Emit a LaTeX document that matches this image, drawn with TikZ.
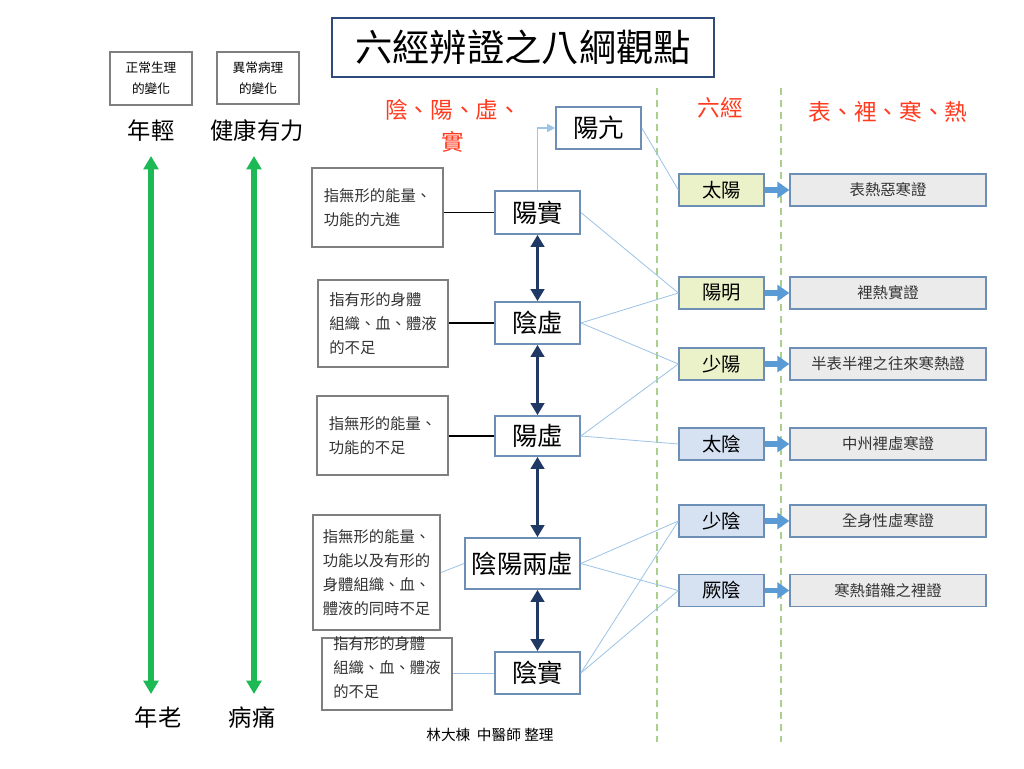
\documentclass[tikz,border=0pt]{standalone}
\usepackage{fontspec}
\setmainfont{Noto Sans CJK TC}
\usetikzlibrary{arrows.meta}
\newlength\px
\setlength\px{0.75pt}
\definecolor{navy}{HTML}{1F3864}
\definecolor{titleblue}{HTML}{2F4B7C}
\definecolor{steel}{HTML}{6D8FB5}
\definecolor{thinblue}{HTML}{9DC3E6}
\definecolor{arrowblue}{HTML}{5B9BD5}
\definecolor{yangfill}{HTML}{EBF1C8}
\definecolor{yinfill}{HTML}{D6E1F2}
\definecolor{rightfill}{HTML}{EBEBEB}
\definecolor{greenarrow}{HTML}{1DB954}
\definecolor{hdrred}{HTML}{FF3B1F}
\definecolor{boxgray}{HTML}{7F7F7F}
\definecolor{dashgreen}{HTML}{A9D18E}
\tikzset{
  pw/.style={minimum width=#1*\px},
  ph/.style={minimum height=#1*\px},
  mainbox/.style={draw=steel, line width=1.3pt, fill=white, inner sep=0pt, font=\fontsize{19}{22}\selectfont},
  descbox/.style={draw=boxgray, line width=1.5pt, fill=white, inner sep=0pt, font=\fontsize{11.5}{18}\selectfont, align=left, text=black!80},
  smallbox/.style={draw=boxgray, line width=1.5pt, fill=white, inner sep=0pt, font=\fontsize{9.5}{16}\selectfont, align=center},
  yangbox/.style={draw=steel, line width=1pt, fill=yangfill, inner sep=0pt, font=\fontsize{14.5}{17}\selectfont},
  yinbox/.style={draw=steel, line width=1pt, fill=yinfill, inner sep=0pt, font=\fontsize{14.5}{17}\selectfont},
  rightbox/.style={draw=steel, line width=1pt, fill=rightfill, inner sep=0pt, font=\fontsize{11.5}{14}\selectfont, text=black!80},
  hdr/.style={text=hdrred, font=\fontsize{17}{24}\selectfont, align=center},
  lbl/.style={font=\fontsize{17.5}{20}\selectfont},
  thin/.style={draw=thinblue, line width=0.6pt},
  navyarrow/.style={draw=navy, line width=2.4pt, {Triangle[length=9pt,width=10pt]}-{Triangle[length=9pt,width=10pt]}},
  greenarr/.style={draw=greenarrow, line width=3.8pt, {Triangle[length=10pt,width=11pt]}-{Triangle[length=10pt,width=11pt]}},
  fatarrow/.style={draw=arrowblue, line width=4.2pt, -{Triangle[length=9pt,width=12pt]}},
  dashline/.style={draw=dashgreen, line width=1.2pt, dash pattern=on 5pt off 4pt},
}
\begin{document}
\begin{tikzpicture}[x=\px, y=-\px]
\useasboundingbox[fill=white] (0,0) rectangle (1024,768);

% dashed separators
\draw[dashline] (657,88) -- (657,742);
\draw[dashline] (781,88) -- (781,742);

% title
\node[draw=titleblue, line width=1.6pt, inner sep=0pt, pw=382, ph=59, font=\fontsize{28}{32}\selectfont] (title) at (523,47.5) {六經辨證之八綱觀點};

% left small boxes
\node[smallbox, pw=82, ph=53] (normal) at (151,78.5) {正常生理\\的變化};
\node[smallbox, pw=82, ph=52] (abnormal) at (258,78) {異常病理\\的變化};
\node[lbl] (young) at (151,131) {年輕};
\node[lbl] (healthy) at (257,131) {健康有力};
\node[lbl] (old) at (158,718) {年老};
\node[lbl] (sick) at (252,718) {病痛};
\coordinate (gA1) at (151,156);
\coordinate (gA2) at (151,694);
\coordinate (gB1) at (254,156);
\coordinate (gB2) at (254,694);
\draw[greenarr] (gA1) -- (gA2);
\draw[greenarr] (gB1) -- (gB2);

% headers
\node[hdr] (h1) at (453,126) {陰、陽、虛、\\實};
\node[hdr] (h2) at (720,108) {六經};
\node[hdr] (h3) at (888,112) {表、裡、寒、熱};

% main boxes
\node[mainbox, pw=85, ph=42] (yangkang) at (598.5,128) {陽亢};
\node[mainbox, pw=85, ph=43] (yangshi) at (537.5,212.5) {陽實};
\node[mainbox, pw=85, ph=42] (yinxu) at (537.5,323) {陰虛};
\node[mainbox, pw=85, ph=40] (yangxu) at (537.5,436) {陽虛};
\node[mainbox, pw=115, ph=51] (both) at (522.5,563.5) {陰陽兩虛};
\node[mainbox, pw=85, ph=42] (yinshi) at (537.5,673) {陰實};

% description boxes
\node[descbox, pw=131, ph=79] (d1) at (377.5,207.5) {指無形的能量、\\功能的亢進};
\node[descbox, pw=130, ph=87] (d2) at (383,323.5) {指有形的身體\\組織、血、體液\\的不足};
\node[descbox, pw=131, ph=79] (d3) at (382.5,435.5) {指無形的能量、\\功能的不足};
\node[descbox, pw=127, ph=115] (d4) at (376.5,572.5) {指無形的能量、\\功能以及有形的\\身體組織、血、\\體液的同時不足};
\node[descbox, pw=130, ph=72] (d5) at (387,674) {};
\node[font=\fontsize{11.5}{18}\selectfont, align=left, text=black!80, anchor=north west, inner sep=0pt] (d5t) at (333,636) {指有形的身體\\組織、血、體液\\的不足};

% six meridians
\node[yangbox, pw=85, ph=32] (taiyang) at (721.5,190) {太陽};
\node[yangbox, pw=85, ph=32] (yangming) at (721.5,293) {陽明};
\node[yangbox, pw=85, ph=32] (shaoyang) at (721.5,364) {少陽};
\node[yinbox, pw=85, ph=32] (taiyin) at (721.5,444) {太陰};
\node[yinbox, pw=85, ph=32] (shaoyin) at (721.5,521) {少陰};
\node[yinbox, pw=85, ph=32] (jueyin) at (721.5,590.5) {厥陰};

% right boxes
\node[rightbox, pw=196, ph=32] (r1) at (888,190) {表熱惡寒證};
\node[rightbox, pw=196, ph=32] (r2) at (888,293) {裡熱實證};
\node[rightbox, pw=196, ph=32] (r3) at (888,364) {半表半裡之往來寒熱證};
\node[rightbox, pw=196, ph=32] (r4) at (888,444) {中州裡虛寒證};
\node[rightbox, pw=196, ph=32] (r5) at (888,521) {全身性虛寒證};
\node[rightbox, pw=196, ph=32] (r6) at (888,590.5) {寒熱錯雜之裡證};

% credit
\node[font=\fontsize{11}{13}\selectfont] (credit) at (490,735) {林大棟\ \ 中醫師 整理};

% fat arrows
\foreach \a/\b in {taiyang/r1, yangming/r2, shaoyang/r3, taiyin/r4, shaoyin/r5, jueyin/r6}
  \draw[fatarrow] (\a.east) -- (\b.west);

% navy double arrows
\draw[navyarrow] (yangshi.south) -- (yinxu.north);
\draw[navyarrow] (yinxu.south) -- (yangxu.north);
\draw[navyarrow] (yangxu.south) -- (both.north -| yangxu.south);
\draw[navyarrow] (both.south -| yinshi.north) -- (yinshi.north);

% description connectors
\draw[black, line width=1.2pt] (yangshi.west -| d1.east) -- (yangshi.west);
\draw[black, line width=1.2pt] (yinxu.west -| d2.east) -- (yinxu.west);
\draw[black, line width=1.2pt] (yangxu.west -| d3.east) -- (yangxu.west);
\draw[thin] (d4.east) -- (both.west);
\draw[thin] (yinshi.west -| d5.east) -- (yinshi.west);

% 陽實 -> 陽亢
\draw[thin, line width=0.9pt, -{Triangle[length=6pt,width=6pt]}, draw=thinblue] (yangshi.north) |- (yangkang.west);

% thin links
\draw[thin] (yangkang.east) -- (taiyang.west);
\draw[thin] (yangshi.east) -- (yangming.west);
\draw[thin] (yinxu.east) -- (yangming.west);
\draw[thin] (yinxu.east) -- (shaoyang.west);
\draw[thin] (yangxu.east) -- (shaoyang.west);
\draw[thin] (yangxu.east) -- (taiyin.west);
\draw[thin] (both.east) -- (shaoyin.west);
\draw[thin] (both.east) -- (jueyin.west);
\draw[thin] (yinshi.east) -- (shaoyin.west);
\draw[thin] (yinshi.east) -- (jueyin.west);
\end{tikzpicture}
\end{document}
